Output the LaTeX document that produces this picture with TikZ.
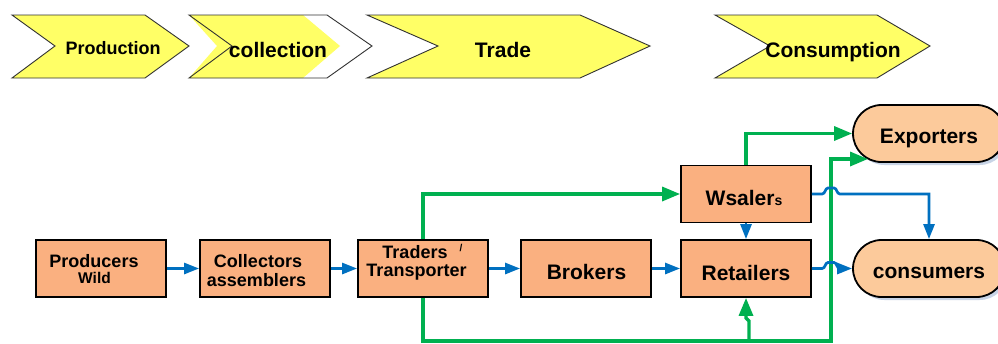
\documentclass[tikz,border=0pt]{standalone}
\usepackage{fontspec}
\setmainfont{Liberation Sans}
\usetikzlibrary{arrows.meta,shadows}
\newcommand\fsz[1]{\fontsize{#1}{#1}\selectfont}
\definecolor{chevyellow}{RGB}{255,255,102}
\definecolor{boxorange}{RGB}{250,176,128}
\definecolor{ovalpeach}{RGB}{252,202,155}
\definecolor{flowblue}{RGB}{0,112,192}
\definecolor{flowgreen}{RGB}{0,176,80}
\definecolor{shadowblue}{RGB}{200,212,230}
\definecolor{chevline}{RGB}{50,50,50}
\begin{document}
\begin{tikzpicture}[x=1pt,y=-1pt,
  chev/.style={draw=chevline,line width=0.9pt,fill=chevyellow},
  chevtext/.style={inner sep=0,anchor=base,font=\bfseries\fsz{21}},
  actor/.style={draw=black,line width=1.8pt,fill=boxorange,minimum width=130pt,minimum height=57pt,inner sep=0},
  oval/.style={draw=black,line width=1.8pt,fill=ovalpeach,minimum width=152pt,minimum height=57pt,rounded corners=28.5pt,inner sep=0,
    drop shadow={shadow xshift=3pt,shadow yshift=-3pt,fill=shadowblue,opacity=1}},
  txt/.style={inner sep=0,anchor=base,font=\bfseries\fsz{18}},
  bigtxt/.style={inner sep=0,anchor=base,font=\bfseries\fsz{21}},
  bline/.style={draw=flowblue,line width=2.7pt,-{Triangle[length=15pt,width=11pt]}},
  gline/.style={draw=flowgreen,line width=3.3pt,-{Triangle[length=18pt,width=14pt]}}
]
\clip (0,0) rectangle (998,343);
\fill[white] (0,0) rectangle (998,343);

% stage chevrons
\draw[chev] (12,15) -- (145,15) -- (189,46) -- (145,78) -- (12,78) -- (55,46) -- cycle;
\fill[chevyellow] (189,15) -- (303,15) -- (340,46) -- (303,78) -- (189,78) -- (217,46) -- cycle;
\draw[draw=chevline,line width=0.9pt] (189,15) -- (327,15) -- (372,46) -- (327,78) -- (189,78) -- (232,46) -- cycle;
\draw[chev] (367,15) -- (580,15) -- (650,46) -- (580,78) -- (367,78) -- (438,46) -- cycle;
\draw[chev] (715,15) -- (877,15) -- (930,46) -- (877,78) -- (715,78) -- (770,46) -- cycle;

\node[chevtext,font=\bfseries\fsz{18}] (sprod) at (113,54) {Production};
\node[chevtext] (scoll) at (278,57) {collection};
\node[chevtext] (strad) at (503,57) {Trade};
\node[chevtext] (scons) at (833,57) {Consumption};

% actor boxes
\node[actor] (prod) at (101,268.5) {};
\node[actor] (coll) at (265,268.5) {};
\node[actor] (trad) at (423,268.5) {};
\node[actor] (brok) at (586,268.5) {};
\node[actor] (ret)  at (746,268.5) {};
\node[actor] (wsal) at (746,194) {};
\node[oval] (exp)  at (929,133.5) {};
\node[oval] (cons) at (929,268.5) {};

% texts
\node[txt] (tprod) at (94,267) {Producers};
\node[txt,font=\bfseries\fsz{15.5}] (twild) at (94.5,283) {Wild};
\node[txt] (tcoll) at (258,267) {Collectors};
\node[txt] (tass) at (256.5,286) {assemblers};
\node[txt] (ttrad) at (415,258) {Traders};
\node[txt,font=\bfseries\fsz{10}] (tslash) at (461,251) {/};
\node[txt] (ttrans) at (416.5,276) {Transporter};
\node[bigtxt] (tbrok) at (586.5,279) {Brokers};
\node[bigtxt] (tret) at (746,280) {Retailers};
\node[bigtxt] (twsal) at (744,205) {Wsaler{\fsz{14}s}};
\node[bigtxt] (texp) at (929,143) {Exporters};
\node[bigtxt] (tcons) at (929,278) {consumers};

% coordinates
\coordinate (gbl) at (423,341);
\coordinate (gbr) at (831,341);
\coordinate (gup) at (831,159);
\coordinate (expin) at (868,159);
\coordinate (rb1) at (749,341);
\coordinate (rb2) at (749,321);
\coordinate (rb3) at (746,318);

% blue flows
\draw[bline] (prod) -- (coll);
\draw[bline] (coll) -- (trad);
\draw[bline] (trad) -- (brok);
\draw[bline] (brok) -- (ret);
\draw[bline] (wsal) -- (ret);

% green flows
\draw[gline] (trad.north) |- (wsal.west);
\draw[gline] (wsal.north) |- (exp.west);
\draw[gline] (trad.south) -- (gbl) -- (gbr) -- (gup) -- (expin);
\draw[gline] (rb1) -- (rb2) -- (rb3) -- (ret.south);

% blue flows hopping over the green line
\draw[bline] (wsal.east) -- (822,194) .. controls (825.5,194) and (825,188) .. (828,188)
  -- (834,188) .. controls (837,188) and (836.5,194) .. (840,194) -| (cons.north);
\draw[bline] (ret.east) -- (822,268.5) .. controls (825.5,268.5) and (825,262.5) .. (828,262.5)
  -- (834,262.5) .. controls (837,262.5) and (836.5,268.5) .. (840,268.5) -- (cons.west);
\end{tikzpicture}
\end{document}
